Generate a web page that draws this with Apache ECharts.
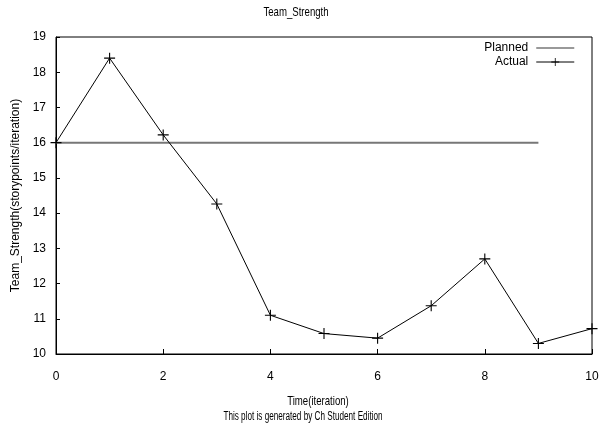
<!DOCTYPE html>
<html>
<head>
<meta charset="utf-8">
<script src="https://cdn.jsdelivr.net/npm/echarts@6/dist/echarts.min.js"></script>
<style>
  html, body { margin: 0; padding: 0; background: #fff; }
  #chart { width: 607px; height: 429px; }
</style>
</head>
<body>
<div id="chart"></div>
<script>
// Iterations and team strength per iteration
const iterations = [0, 1, 2, 3, 4, 5, 6, 7, 8, 9, 10];
const actual = [16, 18.4, 16.22, 14.26, 11.1, 10.58, 10.45, 11.37, 12.7, 10.3, 10.72];
const plannedIterations = [0, 9];
const planned = [16, 16];

const titleText = 'Team_Strength';
const xName = 'Time(iteration)';
const yName = 'Team_Strength(storypoints/iteration)';
const footer = 'This plot is generated by Ch Student Edition';

const sans = '"Liberation Sans", Arial, sans-serif';
const plus = 'path://M4.5,0H5.5V4.5H10V5.5H5.5V10H4.5V5.5H0V4.5H4.5Z';

// condensed caption text, squeezed horizontally around its centre
function caption(text, x, y, size, squeeze) {
  return {
    type: 'text',
    x: x, y: y,
    scaleX: squeeze,
    style: {
      text: text,
      font: size + 'px ' + sans,
      fill: '#000',
      textAlign: 'center',
      textVerticalAlign: 'middle'
    }
  };
}

const chart = echarts.init(document.getElementById('chart'), null, { renderer: 'canvas' });
chart.setOption({
  animation: false,
  backgroundColor: '#ffffff',
  legend: {
    orient: 'vertical',
    right: 27,
    top: 37,
    align: 'right',
    itemWidth: 38,
    itemHeight: 10,
    itemGap: 2,
    textStyle: { fontFamily: sans, fontSize: 12, color: '#000', padding: [0, 3, 0, 0] },
    data: [
      { name: 'Planned', itemStyle: { opacity: 0 }, lineStyle: { width: 1.5, color: '#777777' } },
      { name: 'Actual', lineStyle: { width: 1, color: '#000' } }
    ]
  },
  grid: {
    left: 56, right: 15, top: 37, bottom: 75,
    show: true, borderColor: '#000', borderWidth: 1, backgroundColor: 'transparent'
  },
  graphic: [
    caption(titleText, 296, 12, 13, 0.74),
    caption(xName, 318, 401, 13, 0.74),
    caption(footer, 303, 417, 12, 0.68)
  ],
  xAxis: {
    type: 'value',
    min: 0, max: 10, interval: 2,
    axisLine: { lineStyle: { color: '#000', width: 1 } },
    axisTick: { inside: true, length: 5, lineStyle: { color: '#000' } },
    axisLabel: { fontFamily: sans, fontSize: 12, color: '#000', margin: 17 },
    splitLine: { show: false }
  },
  yAxis: {
    type: 'value',
    min: 10, max: 19, interval: 1,
    name: yName,
    nameLocation: 'middle',
    nameGap: 29,
    nameTextStyle: { fontFamily: sans, fontSize: 12, color: '#000' },
    axisLine: { lineStyle: { color: '#000', width: 1 } },
    axisTick: { inside: true, length: 4, lineStyle: { color: '#000' } },
    axisLabel: { fontFamily: sans, fontSize: 12, color: '#000', margin: 10 },
    splitLine: { show: false }
  },
  series: [
    {
      name: 'Planned',
      type: 'line',
      data: plannedIterations.map((x, i) => [x, planned[i]]),
      showSymbol: false,
      symbol: 'none',
      lineStyle: { color: '#777777', width: 2 },
      itemStyle: { color: '#777777' },
      z: 2
    },
    {
      name: 'Actual',
      type: 'line',
      data: iterations.map((x, i) => [x, actual[i]]),
      symbol: plus,
      symbolSize: 11,
      showAllSymbol: true,
      lineStyle: { color: '#000', width: 1 },
      itemStyle: { color: '#000' },
      z: 3
    }
  ]
});
</script>
</body>
</html>
